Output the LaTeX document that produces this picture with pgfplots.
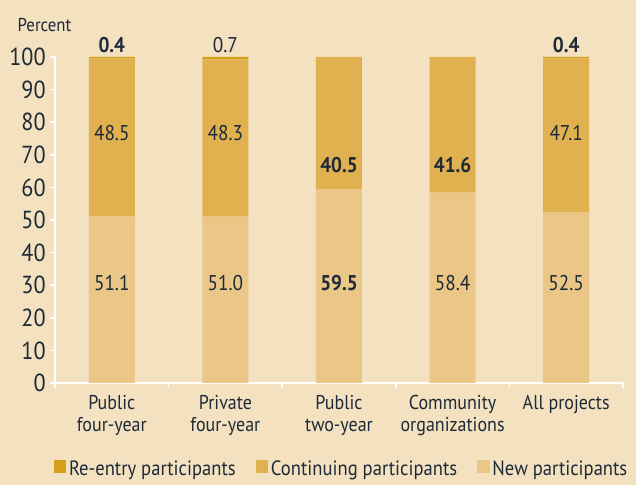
\documentclass[border=0pt]{standalone}
\usepackage{pgfplots}
\pgfplotsset{compat=1.18}
\usepackage{fontspec}
\setmainfont{PT Sans}[FakeStretch=0.9]

\definecolor{bg}{HTML}{F3E1C0}
\definecolor{reentry}{HTML}{D4A017}
\definecolor{cont}{HTML}{E1B150}
\definecolor{newp}{HTML}{EAC687}
\definecolor{txt}{HTML}{1E2A38}

\tikzset{val/.style={text=txt, font=\fontsize{16}{18}\selectfont}}

\begin{document}
\begin{tikzpicture}
\fill[bg] (-41.25pt,-76.5pt) rectangle (435.75pt,287.25pt);
\begin{axis}[
    at={(0,0)}, anchor=south west,
    scale only axis, width=426pt, height=244.5pt,
    ybar stacked, bar width=34.5pt,
    xmin=-0.5, xmax=4.5, ymin=0, ymax=100,
    axis x line*=bottom, axis y line*=left,
    axis line style={white, line width=1.5pt},
    tick align=outside,
    tick style={white, line width=1.2pt},
    major tick length=4pt, minor tick length=4pt,
    xtick={0,...,4},
    major x tick style={draw=none},
    minor xtick={-0.5,0.5,...,4.5},
    xticklabels={{Public\\four-year},{Private\\four-year},{Public\\two-year},{Community\\organizations},{All projects}},
    xticklabel style={align=center, text=txt, font=\fontsize{15}{16.5}\selectfont, yshift=-2pt},
    ytick={0,10,...,100},
    yticklabel style={text=txt, font=\fontsize{18.5}{20}\selectfont, xshift=0.5pt},
    /pgf/number format/assume math mode=true,
    legend style={at={(0.505,-0.265)}, anchor=center, draw=none, fill=none,
        legend columns=-1, font=\fontsize{15.5}{17}\selectfont, text=txt,
        /tikz/every even column/.append style={column sep=13pt}},
    legend image code/.code={\fill[#1] (0pt,-2.5pt) rectangle (9.5pt,7pt);},
    reverse legend,
    clip=false,
]
\addplot[fill=newp, draw=none] coordinates {(0,51.1) (1,51.0) (2,59.5) (3,58.4) (4,52.5)};
\addplot[fill=cont, draw=none] coordinates {(0,48.5) (1,48.3) (2,40.5) (3,41.6) (4,47.1)};
\addplot[fill=reentry, draw=none] coordinates {(0,0.4) (1,0.7) (2,0) (3,0) (4,0.4)};
\legend{New participants, Continuing participants, Re-entry participants}

\coordinate (n0) at (axis cs:0,30.7);
\coordinate (n1) at (axis cs:1,30.7);
\coordinate (n2) at (axis cs:2,30.7);
\coordinate (n3) at (axis cs:3,30.7);
\coordinate (n4) at (axis cs:4,30.7);
\coordinate (c0) at (axis cs:0,76.7);
\coordinate (c1) at (axis cs:1,76.7);
\coordinate (c2) at (axis cs:2,66.9);
\coordinate (c3) at (axis cs:3,66.9);
\coordinate (c4) at (axis cs:4,76.7);
\coordinate (r0) at (axis cs:0,103.8);
\coordinate (r1) at (axis cs:1,103.8);
\coordinate (r4) at (axis cs:4,103.8);
\node[anchor=base west, text=txt, font=\fontsize{14}{16}\selectfont] at (axis description cs:-0.074,1.077) {Percent};
\end{axis}
\node[val] at (n0) {51.1};
\node[val] at (n1) {51.0};
\node[val] at (n2) {\bfseries 59.5};
\node[val] at (n3) {58.4};
\node[val] at (n4) {52.5};
\node[val] at (c0) {48.5};
\node[val] at (c1) {48.3};
\node[val] at (c2) {\bfseries 40.5};
\node[val] at (c3) {\bfseries 41.6};
\node[val] at (c4) {47.1};
\node[val] at (r0) {\bfseries 0.4};
\node[val] at (r1) {0.7};
\node[val] at (r4) {\bfseries 0.4};
\pgfresetboundingbox
\useasboundingbox (-41.25pt,-76.5pt) rectangle (435.75pt,287.25pt);
\end{tikzpicture}
\end{document}
